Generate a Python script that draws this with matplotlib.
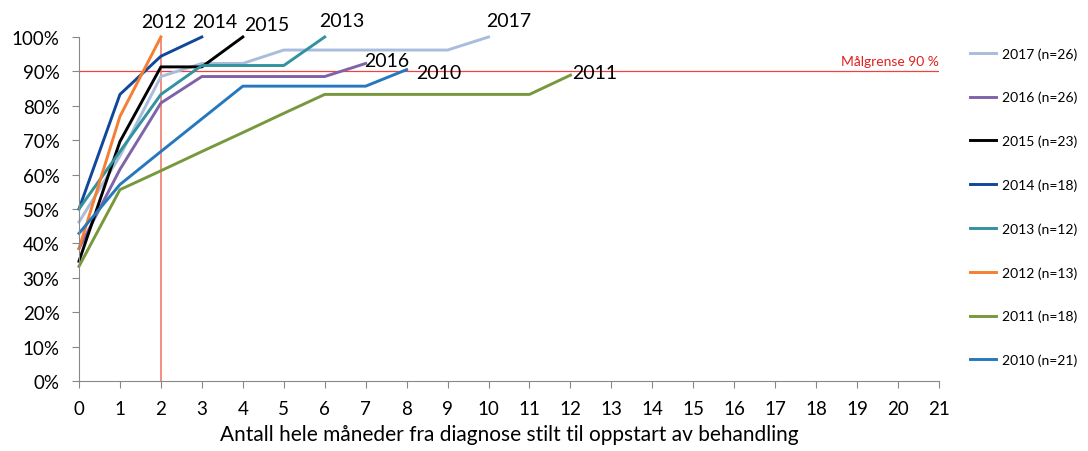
import matplotlib
matplotlib.use("Agg")
import matplotlib.pyplot as plt
from matplotlib.ticker import PercentFormatter

months = list(range(22))

years = ["2017", "2016", "2015", "2014", "2013", "2012", "2011", "2010"]
counts = [26, 26, 23, 18, 12, 13, 18, 21]

# cumulative share started treatment (%), one value per month
s2017 = [46.2, 65.4, 88.5, 92.3, 92.3, 96.2, 96.2, 96.2, 96.2, 96.2, 100.0]
s2016 = [38.5, 61.5, 80.8, 88.5, 88.5, 88.5, 88.5, 92.3]
s2015 = [34.8, 69.6, 91.3, 91.3, 100.0]
s2014 = [50.0, 83.3, 94.4, 100.0]
s2013 = [50.0, 66.7, 83.3, 91.7, 91.7, 91.7, 100.0]
s2012 = [38.5, 76.9, 100.0]
s2011 = [33.3, 55.6, 61.1, 66.7, 72.2, 77.8, 83.3, 83.3, 83.3, 83.3, 83.3, 83.3, 88.9]
s2010 = [42.9, 57.1, 66.7, 76.2, 85.7, 85.7, 85.7, 85.7, 90.5]

series = [s2017, s2016, s2015, s2014, s2013, s2012, s2011, s2010]
colors = ["#A9BCDB", "#7F63A8", "#000000", "#11479A", "#33929F",
          "#F47F32", "#77983D", "#2578BE"]
# label offsets (points) for the end-of-line year labels
label_off = {"2017": (-2, 6), "2016": (-1, -4), "2015": (1, 3), "2014": (-7, 5),
             "2013": (-4, 6), "2012": (-14, 5), "2011": (1, -4), "2010": (7, -8)}

plt.rcParams["font.family"] = ["Lato", "DejaVu Sans"]

fig = plt.figure(figsize=(10.88, 4.52), dpi=100)
ax = fig.add_axes([0.0726, 0.155, 0.7905, 0.761])

handles = []
for yr, n, vals, c in zip(years, counts, series, colors):
    x = months[:len(vals)]
    (h,) = ax.plot(x, vals, color=c, lw=2.1, clip_on=False, label=f"{yr} (n={n})")
    handles.append(h)
    dx, dy = label_off[yr]
    ax.annotate(yr, (x[-1], vals[-1]), xytext=(dx, dy), textcoords="offset points",
                fontsize=14, ha="left", va="bottom")

ax.axhline(90, color="#F04040", lw=0.9, zorder=0)
ax.axvline(2, color="#F07060", lw=1.1, zorder=0)
ax.text(21, 91.2, "Målgrense 90 %", color="#E02020", fontsize=10, ha="right", va="bottom")

ax.set_xlim(0, 21)
ax.set_ylim(0, 100)
ax.set_xticks(months)
ax.set_yticks(range(0, 101, 10))
ax.yaxis.set_major_formatter(PercentFormatter(decimals=0))
ax.tick_params(labelsize=13.5, color="#888888", length=5, pad=9)
for side in ["top", "right"]:
    ax.spines[side].set_visible(False)
for side in ["left", "bottom"]:
    ax.spines[side].set_color("#888888")
ax.set_xlabel("Antall hele måneder fra diagnose stilt til oppstart av behandling",
              fontsize=15, labelpad=5)

fig.legend(handles=handles, loc="upper left", bbox_to_anchor=(0.886, 0.906),
           frameon=False, fontsize=10, handlelength=1.9, labelspacing=2.25,
           handletextpad=0.45, borderaxespad=0)

fig.savefig("out.png", dpi=100)
